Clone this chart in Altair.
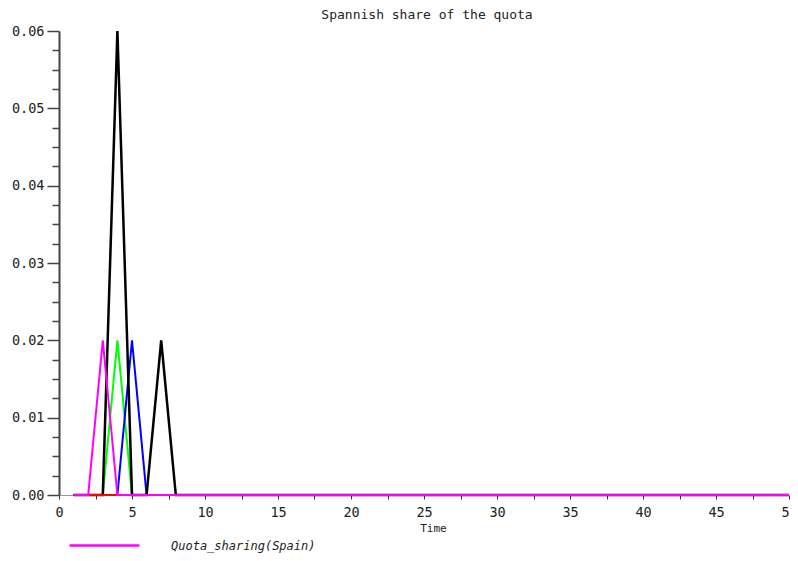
import altair as alt
import pandas as pd

# ---- data ----
time = list(range(1, 51))

spain_t = [3]; spain_v = [0.02]          # magenta
black_t = [4, 7]; black_v = [0.06, 0.02]  # black
green_t = [4]; green_v = [0.02]          # green
blue_t = [5]; blue_v = [0.02]            # blue
red_t = []; red_v = []                   # red (flat at zero)

series_names = ["Quota_sharing(G)", "Quota_sharing(B)", "Quota_sharing(K)",
                "Quota_sharing(R)", "Quota_sharing(Spain)"]
series_colors = ["#00ff00", "#0000ff", "#000000", "#ff0000", "#ff00ff"]
series_widths = [2, 2, 2.5, 2, 2]
peaks = [(green_t, green_v), (blue_t, blue_v), (black_t, black_v),
         (red_t, red_v), (spain_t, spain_v)]

x_ticks = [0, 2.5, 5, 7.5, 10, 12.5, 15, 17.5, 20, 22.5, 25, 27.5, 30, 32.5,
           35, 37.5, 40, 42.5, 45, 47.5, 50]
y_ticks = [0, 0.0025, 0.005, 0.0075, 0.01, 0.0125, 0.015, 0.0175, 0.02,
           0.0225, 0.025, 0.0275, 0.03, 0.0325, 0.035, 0.0375, 0.04, 0.0425,
           0.045, 0.0475, 0.05, 0.0525, 0.055, 0.0575, 0.06]

rows = []
for name, (pt, pv) in zip(series_names, peaks):
    lookup = dict(zip(pt, pv))
    for t in time:
        rows.append({"Time": t, "value": lookup.get(t, 0.0), "series": name})
df = pd.DataFrame(rows)

FONT = "DejaVu Sans Mono"
major_y = "abs(datum.value*100 - round(datum.value*100)) < 1e-6"

x_enc = alt.X("Time:Q", title="Time",
              scale=alt.Scale(domain=[0, 50], nice=False, zero=False),
              axis=alt.Axis(values=x_ticks, grid=False,
                            labelExpr="datum.value % 5 == 0 ? datum.value : ''",
                            labelOverlap=False, labelFlush=False,
                            tickSize=4, labelPadding=6, tickColor="#333",
                            domainColor="#999", domainWidth=1,
                            labelFont=FONT, labelFontSize=13.5, labelColor="#222",
                            titleFont=FONT, titleFontSize=11, titleFontWeight="normal",
                            titleColor="#222", titlePadding=4, titleX=374))
y_enc = alt.Y("value:Q", title=None,
              scale=alt.Scale(domain=[0, 0.06], nice=False),
              axis=alt.Axis(values=y_ticks, grid=False,
                            labelExpr=major_y + " ? format(datum.value, '.2f') : ''",
                            labelOverlap=False, labelFlush=False,
                            tickSize={"condition": {"test": major_y, "value": 12}, "value": 7},
                            labelPadding=3, tickColor="#444", tickWidth=1.5,
                            domainColor="#444", domainWidth=2,
                            labelFont=FONT, labelFontSize=13.5, labelColor="#222"))

color_scale = alt.Scale(domain=series_names, range=series_colors)
legend = alt.Legend(title=None, values=["Quota_sharing(Spain)"], orient="none",
                    legendX=9, legendY=478, padding=0,
                    symbolType="stroke", symbolSize=4900, symbolStrokeWidth=2.5,
                    labelOffset=30, labelFont=FONT, labelFontSize=12,
                    labelFontStyle="italic", labelColor="#222", labelLimit=400)

layers = []
for name, w in zip(series_names, series_widths):
    sub = df[df["series"] == name]
    layers.append(alt.Chart(sub).mark_line(strokeWidth=w).encode(
        x=x_enc, y=y_enc,
        color=alt.Color("series:N", scale=color_scale, legend=legend)))

chart = alt.layer(*layers).properties(
    width=730, height=464,
    title=alt.Title("Spannish share of the quota", font=FONT, fontSize=13,
                    fontWeight="normal", color="#222", anchor="middle", offset=2, dx=3),
    autosize=alt.AutoSizeParams(type="none"),
    padding={"left": 51, "top": 23, "right": 1, "bottom": 58},
).configure_view(stroke=None)

chart.save("out.html", embed_options={"renderer": "svg", "actions": False})
